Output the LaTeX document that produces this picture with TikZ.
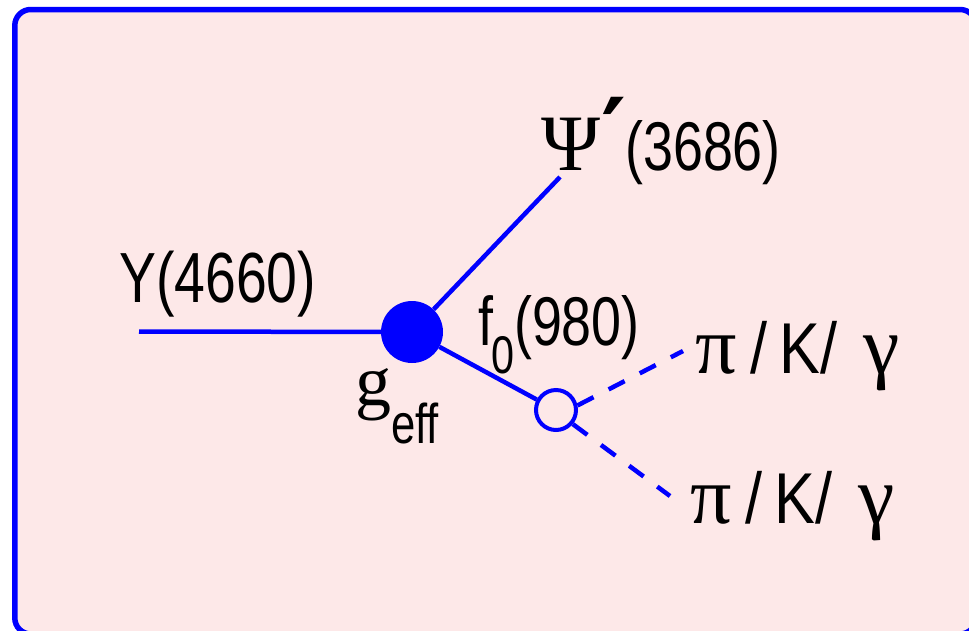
\documentclass[tikz,border=0pt]{standalone}
\usepackage{fontspec}
\setmainfont{Liberation Sans}
\newfontfamily\lab{Liberation Sans}[FakeStretch=0.78]
\newfontfamily\labk{Liberation Sans}[FakeStretch=0.85]
\newfontfamily\gr{Liberation Serif}
\newfontfamily\grd{DejaVu Serif}
\definecolor{bgpink}{RGB}{253,232,232}
\definecolor{lnblue}{RGB}{0,0,255}
\begin{document}
\begin{tikzpicture}[x=1pt,y=-1pt,
  ln/.style={draw=lnblue, line width=4.5pt},
  dsh/.style={draw=lnblue, line width=4.5pt, dash pattern=on 18pt off 17pt},
  blob/.style={circle, fill=lnblue, draw=none, minimum size=62pt, inner sep=0pt},
  ring/.style={circle, draw=lnblue, line width=4pt, fill=bgpink, minimum size=40pt, inner sep=0pt},
  lbl/.style={anchor=base west, inner sep=0pt, text=black}]
\useasboundingbox (0,0) rectangle (969,630);
\begin{scope}
\clip (0,0) rectangle (969,630);
\draw[draw=lnblue, line width=5.5pt, fill=bgpink, rounded corners=16pt] (14.8,9.5) rectangle (976,634);
\end{scope}
\node[blob] (g) at (412,332) {};
\node[ring] (f) at (556,410) {};
\coordinate (y) at (139,331.5);
\coordinate (psi) at (560,177);
\coordinate (p1) at (683,351);
\coordinate (p2) at (670,496);
\draw[ln] (y) -- (g);
\draw[ln] (g) -- (psi);
\draw[ln] (g) -- (f);
\draw[dsh] (f.12) -- (p1);
\draw[dsh] (f.-40) -- (p2);
\node[lbl] (ylab) at (119,302) {\lab\fontsize{71}{80}\selectfont Y(4660)};
\node[lbl] (psilab) at (541,170) {{\gr\fontsize{80}{90}\selectfont Ψ}\kern1pt\raisebox{4pt}{\grd\bfseries\fontsize{95}{100}\selectfont ′}\kern-1pt{\lab\fontsize{69}{80}\selectfont (3686)}};
\node[lbl] (flab) at (478,345) {\lab\fontsize{69}{80}\selectfont f\kern-2pt\raisebox{-28pt}{\fontsize{53}{60}\selectfont 0}(980)};
\node[lbl] (glab) at (355,405) {{\gr\fontsize{72}{80}\selectfont g}\raisebox{-38pt}{\lab\fontsize{56}{60}\selectfont eff}};
\node[lbl] (pk1) at (695,373) {\labk\fontsize{72}{80}\selectfont{\gr\fontsize{82}{90}\selectfont π}\hspace{14pt}/\hspace{12pt}K/\hspace{26pt}{\gr\fontsize{82}{90}\selectfont γ}};
\node[lbl] (pk2) at (690,523) {\labk\fontsize{72}{80}\selectfont{\gr\fontsize{82}{90}\selectfont π}\hspace{14pt}/\hspace{12pt}K/\hspace{26pt}{\gr\fontsize{82}{90}\selectfont γ}};
\end{tikzpicture}
\end{document}
